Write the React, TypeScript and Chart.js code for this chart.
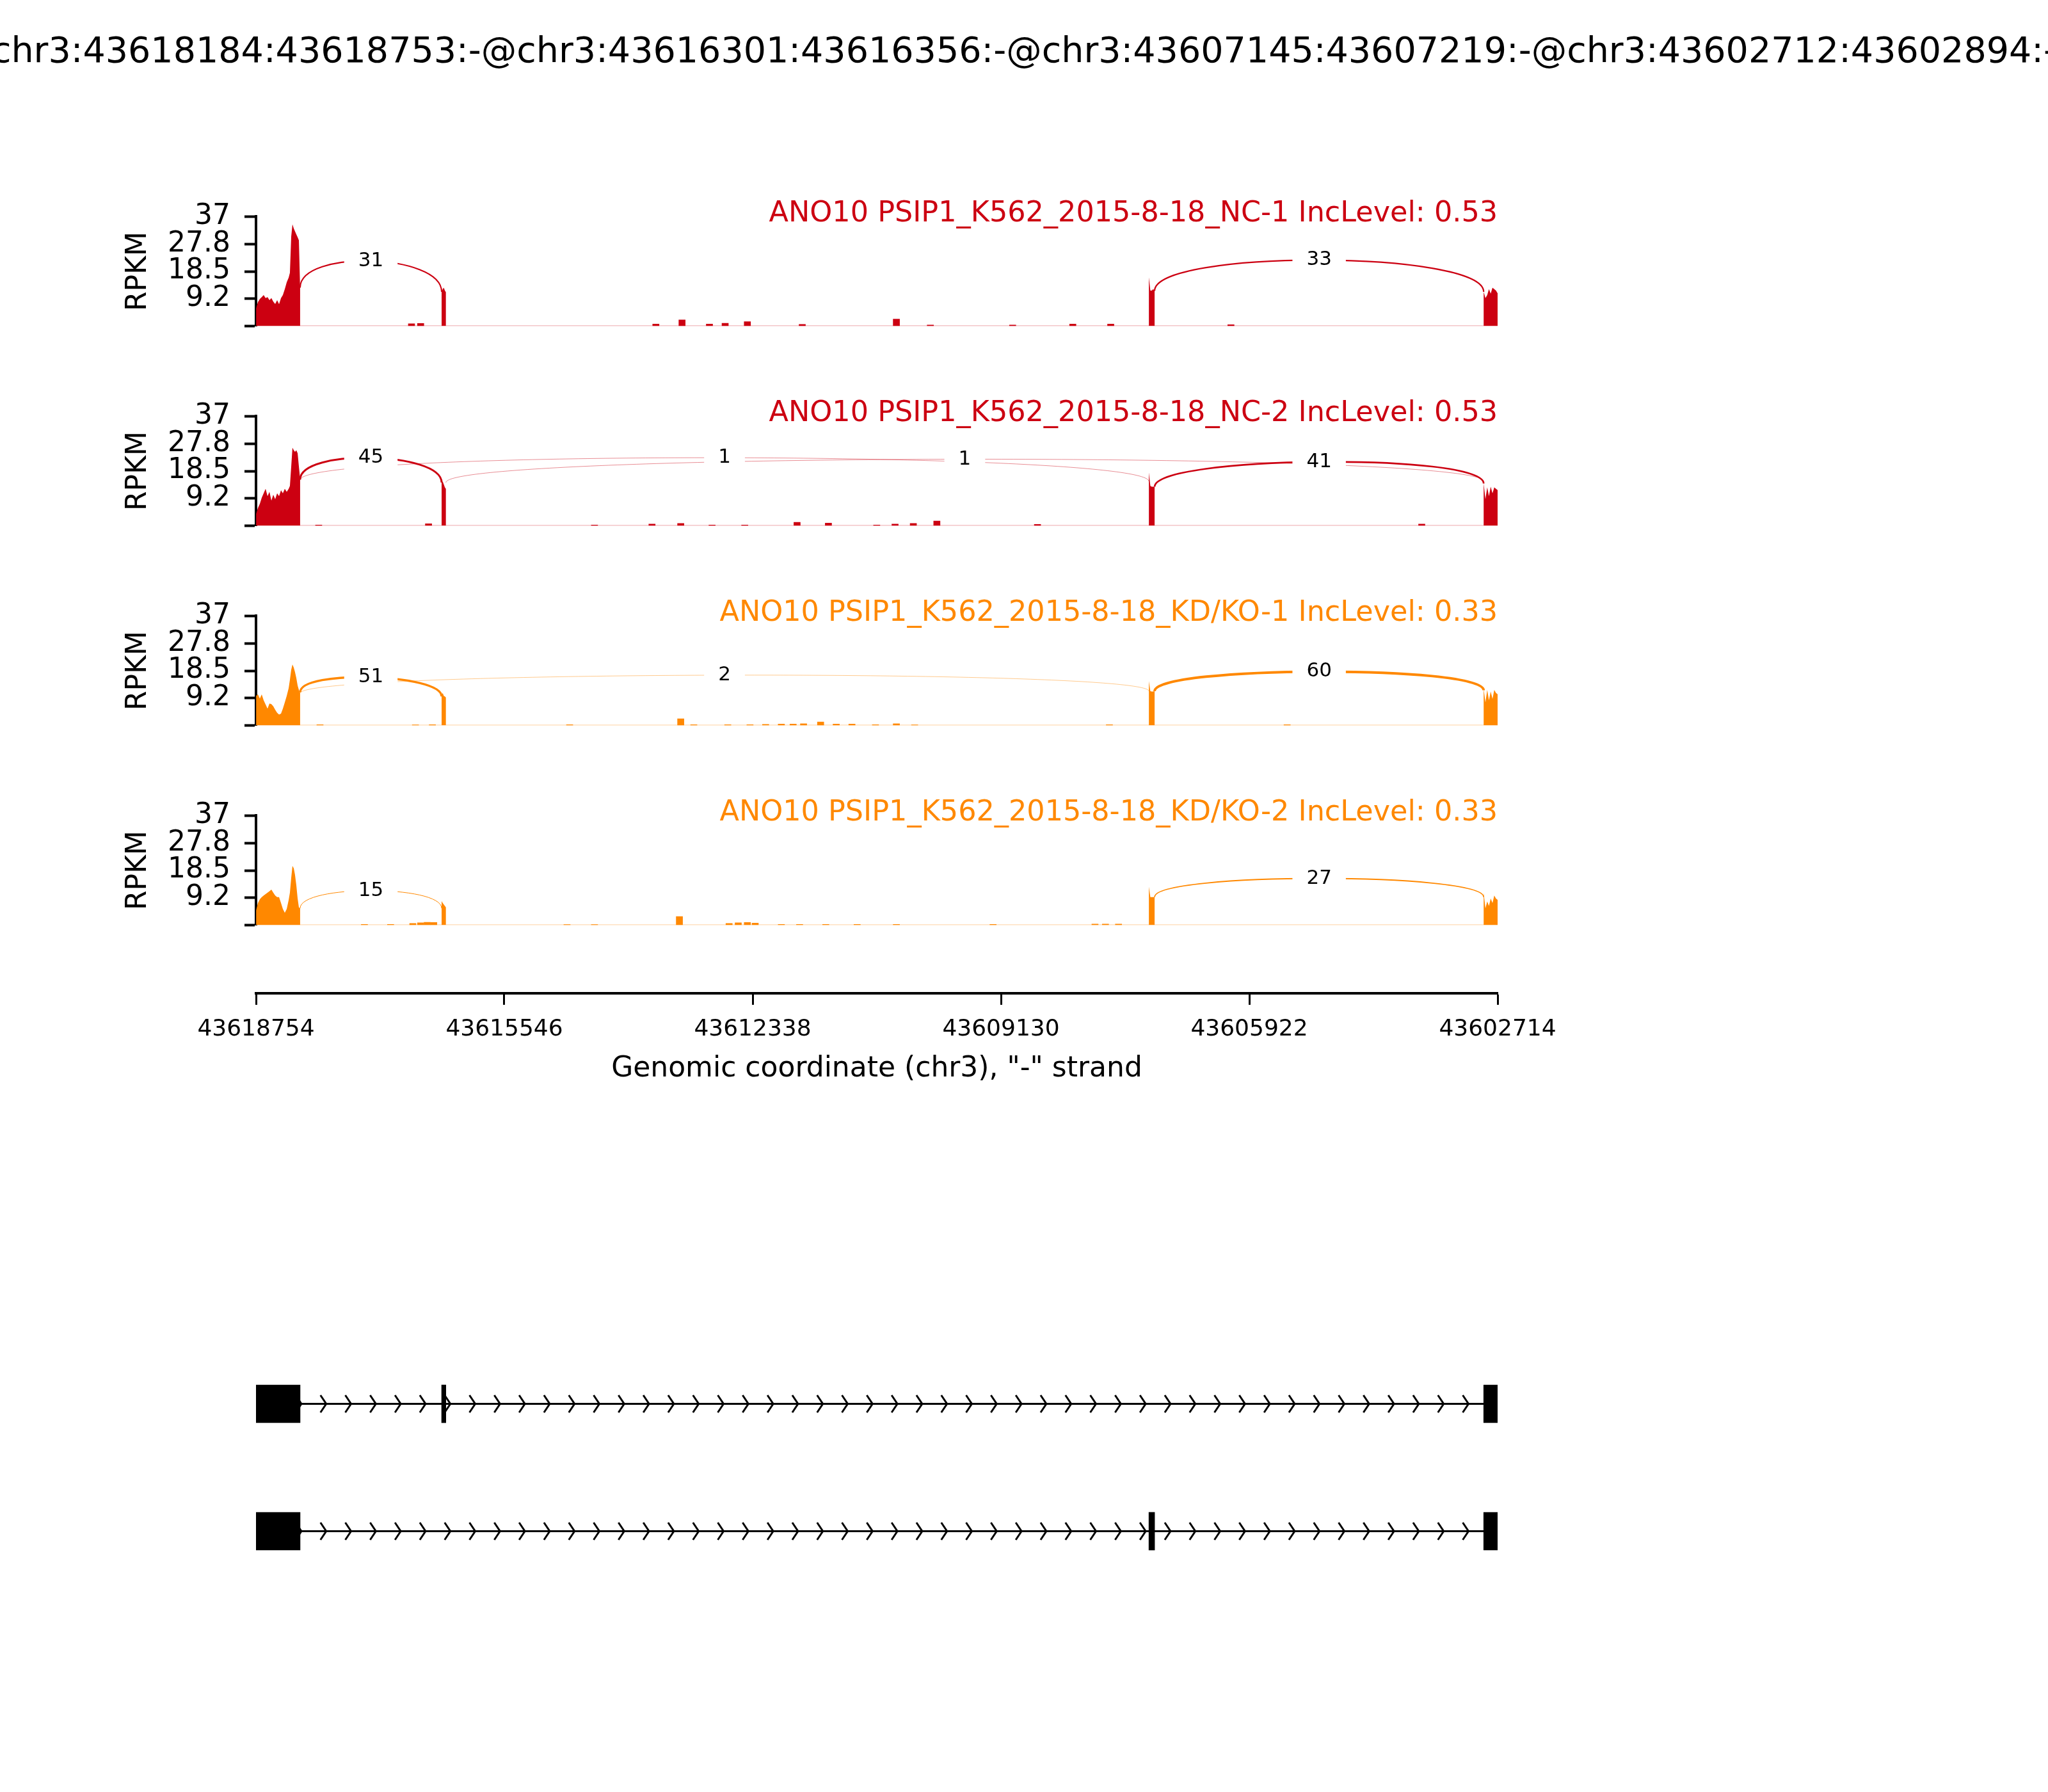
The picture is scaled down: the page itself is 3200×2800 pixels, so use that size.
import React, { useEffect, useRef } from 'react';
import { Chart, registerables } from 'chart.js';

Chart.register(...registerables);

const FONT = "'DejaVu Sans', sans-serif";
Chart.defaults.font.family = FONT;
Chart.defaults.color = '#000';

// ---------------- data ----------------
const eventTitle =
  'chr3:43618184:43618753:-@chr3:43616301:43616356:-@chr3:43607145:43607219:-@chr3:43602712:43602894:-';
const xAxisTitle = 'Genomic coordinate (chr3), "-" strand';
const yAxisTitle = 'RPKM';
const xTicks = [43618754, 43615546, 43612338, 43609130, 43605922, 43602714];
const yTicks = [0, 9.25, 18.5, 27.75, 37];
const yTickLabels = ['', '9.2', '18.5', '27.8', '37'];

const exonStarts = [43618184, 43616301, 43607145, 43602712];
const exonEnds = [43618753, 43616356, 43607219, 43602894];
const isoformLabels = ['isoform1', 'isoform2'];
const isoformExons = [
  [0, 1, 3],
  [0, 2, 3],
];

const sampleNames = [
  'ANO10 PSIP1_K562_2015-8-18_NC-1',
  'ANO10 PSIP1_K562_2015-8-18_NC-2',
  'ANO10 PSIP1_K562_2015-8-18_KD/KO-1',
  'ANO10 PSIP1_K562_2015-8-18_KD/KO-2',
];
const incLevels = ['0.53', '0.53', '0.33', '0.33'];
const sampleColors = ['#CC0011', '#CC0011', '#FF8800', '#FF8800'];
const baselineColors = ['rgba(204,0,17,0.28)', 'rgba(204,0,17,0.28)', 'rgba(255,136,0,0.3)', 'rgba(255,136,0,0.3)'];

// coverage sample positions inside each exon (genomic, left to right on the reversed axis)
const e1Pos = [
  43618753, 43618729, 43618704, 43618680, 43618655, 43618630, 43618605, 43618580, 43618555,
  43618531, 43618506, 43618481, 43618456, 43618431, 43618407, 43618382, 43618357, 43618332,
  43618316, 43618299, 43618283, 43618266, 43618250, 43618233, 43618216, 43618200, 43618184,
];
const e2Pos = [43616356, 43616342, 43616328, 43616314, 43616301];
const e3Pos = [43607219, 43607200, 43607182, 43607163, 43607145];
const e4Pos = [43602894, 43602871, 43602848, 43602826, 43602803, 43602780, 43602757, 43602735, 43602712];

// RPKM coverage per sample
const nc1E1 = [6.0, 8.1, 9.2, 9.8, 10.5, 9.5, 9.8, 8.8, 9.5, 8.3, 7.5, 8.8, 7.4, 9.5, 10.5, 12.5, 14.8, 16.4, 18.0, 30.3, 34.4, 33.0, 32.0, 31.0, 30.0, 29.0, 13.0];
const nc1E2 = [11.6, 12.5, 13.0, 12.0, 11.5];
const nc1E3 = [16.5, 12.0, 12.0, 12.5, 11.9];
const nc1E4 = [11.6, 9.5, 10.5, 12.5, 11.0, 13.0, 12.5, 12.0, 11.0];

const nc2E1 = [4.0, 6.0, 7.5, 9.5, 11.0, 12.5, 10.0, 11.5, 8.5, 10.5, 9.0, 11.0, 10.0, 12.0, 11.0, 12.5, 11.5, 12.5, 13.5, 20.0, 26.4, 25.5, 25.0, 25.5, 24.5, 20.0, 16.0];
const nc2E2 = [14.6, 15.0, 14.0, 13.0, 12.5];
const nc2E3 = [18.0, 13.5, 13.2, 13.2, 13.2];
const nc2E4 = [14.3, 9.0, 13.0, 10.0, 13.2, 11.0, 13.0, 12.5, 12.0];

const kd1E1 = [10.0, 10.5, 9.1, 10.5, 8.5, 7.1, 5.7, 7.4, 7.2, 6.5, 5.3, 4.3, 3.7, 4.0, 5.7, 7.8, 10.0, 12.6, 15.4, 18.8, 20.6, 19.5, 18.0, 16.0, 13.5, 12.0, 11.0];
const kd1E2 = [10.0, 11.0, 10.0, 9.8, 9.5];
const kd1E3 = [15.0, 11.6, 11.5, 11.5, 11.6];
const kd1E4 = [12.3, 7.8, 12.0, 8.5, 11.5, 9.0, 12.0, 11.0, 10.5];

const kd2E1 = [5.0, 7.5, 8.8, 9.5, 10.0, 10.5, 11.0, 11.5, 12.0, 11.0, 10.0, 9.5, 9.5, 7.5, 5.5, 4.2, 5.5, 8.5, 11.0, 16.0, 20.0, 19.2, 17.0, 13.5, 9.0, 6.0, 5.7];
const kd2E2 = [8.1, 7.5, 7.0, 6.5, 6.0];
const kd2E3 = [13.0, 9.5, 9.5, 9.5, 9.5];
const kd2E4 = [10.9, 5.7, 8.0, 6.5, 9.0, 7.5, 10.0, 9.0, 8.5];

// small intronic read pile-ups: [genomic position, RPKM]
const nc1Bumps = [
  [43616745, 0.8], [43616627, 0.9], [43613588, 0.7], [43613250, 2.1], [43612896, 0.7],
  [43612693, 1.0], [43612406, 1.5], [43611697, 0.6], [43610481, 2.4], [43610042, 0.4],
  [43608979, 0.4], [43608202, 0.7], [43607712, 0.7], [43606159, 0.5],
];
const nc2Bumps = [
  [43617944, 0.3], [43616525, 0.7], [43614381, 0.3], [43613638, 0.6], [43613267, 0.8],
  [43612862, 0.3], [43612440, 0.3], [43611764, 1.2], [43611359, 0.9], [43610735, 0.3],
  [43610498, 0.6], [43610262, 0.8], [43609958, 1.6], [43608658, 0.5], [43603694, 0.6],
];
const kd1Bumps = [
  [43617927, 0.3], [43616694, 0.2], [43616475, 0.3], [43614702, 0.3], [43613267, 2.3],
  [43613098, 0.3], [43612659, 0.3], [43612372, 0.3], [43612170, 0.4], [43611967, 0.5],
  [43611815, 0.5], [43611680, 0.6], [43611460, 1.2], [43611258, 0.5], [43611055, 0.5],
  [43610751, 0.3], [43610481, 0.6], [43610245, 0.2], [43607729, 0.3], [43605433, 0.3],
];
const kd2Bumps = [
  [43617353, 0.3], [43617015, 0.3], [43616728, 0.6], [43616627, 0.8], [43616542, 1.0],
  [43616458, 0.9], [43614736, 0.2], [43614381, 0.2], [43613284, 2.9], [43612642, 0.6],
  [43612524, 0.8], [43612406, 0.9], [43612305, 0.7], [43611967, 0.3], [43611731, 0.3],
  [43611393, 0.3], [43610988, 0.3], [43610481, 0.3], [43609232, 0.3], [43607915, 0.4],
  [43607780, 0.4], [43607611, 0.4],
];

// junctions: [left splice site, right splice site, read count, RPKM at left end, RPKM at right end, RPKM at apex]
const nc1Junctions = [
  [43618184, 43616356, 31, 13.0, 11.6, 22.0],
  [43607145, 43602894, 33, 11.9, 11.6, 22.3],
];
const nc2Junctions = [
  [43618184, 43616356, 45, 15.6, 14.6, 23.0],
  [43618184, 43607219, 1, 15.5, 15.0, 23.0],
  [43616301, 43602894, 1, 14.6, 15.0, 22.5],
  [43607145, 43602894, 41, 13.2, 14.3, 21.6],
];
const kd1Junctions = [
  [43618184, 43616356, 51, 11.2, 9.8, 16.3],
  [43618184, 43607219, 2, 10.9, 11.6, 17.0],
  [43607145, 43602894, 60, 11.6, 11.9, 18.2],
];
const kd2Junctions = [
  [43618184, 43616356, 15, 5.7, 5.7, 11.7],
  [43607145, 43602894, 27, 9.5, 9.5, 15.8],
];

const exonPositions = [e1Pos, e2Pos, e3Pos, e4Pos];
const sampleCoverage = [
  [nc1E1, nc1E2, nc1E3, nc1E4],
  [nc2E1, nc2E2, nc2E3, nc2E4],
  [kd1E1, kd1E2, kd1E3, kd1E4],
  [kd2E1, kd2E2, kd2E3, kd2E4],
];
const sampleBumps = [nc1Bumps, nc2Bumps, kd1Bumps, kd2Bumps];
const sampleJunctions = [nc1Junctions, nc2Junctions, kd1Junctions, kd2Junctions];

// ---------------- layout ----------------
const CANVAS_W = 3200;
const PLOT_LEFT = 400;
const PLOT_RIGHT = 2340;
const PANEL_TOP0 = 335;
const PANEL_STEP = 312;
const PANEL_H = 178;
const PANEL_PAD = 45;
const X_MIN = Math.min(...xTicks);
const X_MAX = Math.max(...xTicks);

function makePanelConfig(i: number): any {
  const color = sampleColors[i];
  const cov = sampleCoverage[i];
  const covPoints: { x: number; y: number }[] = [];
  exonPositions.forEach((pos, k) => {
    covPoints.push({ x: pos[0], y: 0 });
    pos.forEach((p, j) => covPoints.push({ x: p, y: cov[k][j] }));
    covPoints.push({ x: pos[pos.length - 1], y: 0 });
  });
  const bumps = sampleBumps[i].map(([p, v]) => ({ x: p, y: v }));
  const baseline = [
    { x: X_MAX, y: 0 },
    { x: X_MIN, y: 0 },
  ];
  const juncs = sampleJunctions[i];
  const label = `${sampleNames[i]} IncLevel: ${incLevels[i]}`;

  const arcPlugin = {
    id: 'sashimiArcs' + i,
    afterDatasetsDraw(chart: any) {
      const { ctx } = chart;
      const xs = chart.scales.x;
      const ys = chart.scales.y;
      ctx.save();
      ctx.strokeStyle = color;
      ctx.lineCap = 'butt';
      const labels: { x: number; y: number; t: string }[] = [];
      for (const [s, e, c, l, r, a] of juncs) {
        const h = (a - (l + r) / 2) / 0.75;
        const x1 = xs.getPixelForValue(s);
        const x2 = xs.getPixelForValue(e);
        ctx.lineWidth = Math.max(c / 15, 0.45);
        ctx.beginPath();
        ctx.moveTo(x1, ys.getPixelForValue(l));
        ctx.bezierCurveTo(x1, ys.getPixelForValue(l + h), x2, ys.getPixelForValue(r + h), x2, ys.getPixelForValue(r));
        ctx.stroke();
        labels.push({ x: (x1 + x2) / 2, y: ys.getPixelForValue(a), t: String(c) });
      }
      ctx.font = `31px ${FONT}`;
      ctx.textAlign = 'center';
      ctx.textBaseline = 'middle';
      for (const lb of labels) {
        const tw = ctx.measureText(lb.t).width;
        ctx.fillStyle = '#fff';
        ctx.fillRect(lb.x - tw / 2 - 22, lb.y - 21, tw + 44, 42);
        ctx.fillStyle = '#000';
        ctx.fillText(lb.t, lb.x, lb.y);
      }
      ctx.restore();
    },
  };

  const labelPlugin = {
    id: 'sampleLabel' + i,
    afterDraw(chart: any) {
      const { ctx, chartArea } = chart;
      ctx.save();
      ctx.font = `44.5px ${FONT}`;
      ctx.fillStyle = color;
      ctx.textAlign = 'right';
      ctx.textBaseline = 'middle';
      ctx.fillText(label, chartArea.right, chartArea.top - 4);
      ctx.restore();
    },
  };

  return {
    type: 'line',
    data: {
      datasets: [
        {
          type: 'line',
          data: covPoints,
          borderColor: 'rgba(0,0,0,0)',
          borderWidth: 0,
          backgroundColor: color,
          fill: 'origin',
          pointRadius: 0,
          tension: 0,
          order: 1,
        },
        {
          type: 'bar',
          data: bumps,
          backgroundColor: color,
          barThickness: 10,
          order: 2,
        },
        {
          type: 'line',
          data: baseline,
          borderColor: baselineColors[i],
          borderWidth: 2.5,
          pointRadius: 0,
          fill: false,
          order: 3,
        },
      ],
    },
    options: {
      responsive: false,
      animation: false,
      devicePixelRatio: 1,
      events: [],
      layout: { padding: { left: 190, right: CANVAS_W - PLOT_RIGHT, top: PANEL_PAD, bottom: PANEL_PAD } },
      plugins: { legend: { display: false }, tooltip: { enabled: false }, title: { display: false } },
      scales: {
        x: {
          type: 'linear',
          reverse: true,
          min: X_MIN,
          max: X_MAX,
          display: false,
          offset: false,
          grid: { offset: false },
        },
        y: {
          type: 'linear',
          min: 0,
          max: 37,
          afterBuildTicks: (s: any) => {
            s.ticks = yTicks.map((v) => ({ value: v }));
          },
          afterFit: (s: any) => {
            s.width = PLOT_LEFT - 190;
          },
          border: { display: true, color: '#000', width: 4 },
          grid: {
            display: true,
            drawOnChartArea: false,
            drawTicks: true,
            tickLength: 18,
            tickWidth: 4,
            tickColor: '#000',
          },
          ticks: {
            autoSkip: false,
            padding: 22,
            color: '#000',
            font: { size: 44, family: FONT },
            callback: (v: any) => {
              const k = yTicks.indexOf(Number(v));
              return k >= 0 ? yTickLabels[k] : '';
            },
          },
          title: {
            display: true,
            text: yAxisTitle,
            color: '#000',
            font: { size: 44, family: FONT },
            padding: { top: 0, bottom: 0 },
          },
        },
      },
    },
    plugins: [arcPlugin, labelPlugin],
  };
}

const AXIS_CANVAS_TOP = 1480;
const AXIS_CANVAS_H = 260;

function makeAxisConfig(): any {
  return {
    type: 'line',
    data: { datasets: [] },
    options: {
      responsive: false,
      animation: false,
      devicePixelRatio: 1,
      events: [],
      layout: { padding: { left: PLOT_LEFT, right: CANVAS_W - PLOT_RIGHT, top: 0, bottom: 43 } },
      plugins: { legend: { display: false }, tooltip: { enabled: false } },
      scales: {
        x: {
          type: 'linear',
          position: 'bottom',
          reverse: true,
          min: X_MIN,
          max: X_MAX,
          offset: false,
          afterBuildTicks: (s: any) => {
            s.ticks = xTicks.map((v) => ({ value: v }));
          },
          afterFit: (s: any) => {
            s.height = 145;
          },
          border: { display: true, color: '#000', width: 4 },
          grid: {
            display: true,
            drawOnChartArea: false,
            drawTicks: true,
            tickLength: 18,
            tickWidth: 3,
            tickColor: '#000',
          },
          ticks: {
            autoSkip: false,
            maxRotation: 0,
            minRotation: 0,
            padding: 17,
            color: '#000',
            font: { size: 36, family: FONT },
            callback: (v: any) => String(v),
          },
          title: {
            display: true,
            text: xAxisTitle,
            color: '#000',
            font: { size: 44, family: FONT },
            padding: { top: 0, bottom: 0 },
          },
        },
        y: { display: false, min: 0, max: 1 },
      },
    },
  };
}

const GENE_CANVAS_TOP = 2060;
const GENE_CANVAS_H = 470;

function makeGeneConfig(): any {
  const exonBars = isoformExons.flatMap((ex, t) =>
    ex.map((k) => ({ y: isoformLabels[t], x: [exonStarts[k], exonEnds[k]] }))
  );
  const intronLines = isoformExons.map((ex, t) => ({
    type: 'line',
    indexAxis: 'y',
    data: [
      { x: exonStarts[ex[0]], y: isoformLabels[t] },
      { x: exonEnds[ex[ex.length - 1]], y: isoformLabels[t] },
    ],
    borderColor: '#000',
    borderWidth: 3,
    pointRadius: 0,
    fill: false,
    order: 2,
  }));

  const chevronPlugin = {
    id: 'chevrons',
    afterDatasetsDraw(chart: any) {
      const { ctx } = chart;
      const xs = chart.scales.x;
      const ys = chart.scales.y;
      ctx.save();
      ctx.strokeStyle = '#000';
      ctx.lineWidth = 3;
      isoformExons.forEach((ex, t) => {
        const y = ys.getPixelForValue(t);
        const xa = xs.getPixelForValue(exonStarts[ex[0]]);
        const xb = xs.getPixelForValue(exonEnds[ex[ex.length - 1]]);
        for (let x = xa + 2; x < xb - 6; x += 38.8) {
          ctx.beginPath();
          ctx.moveTo(x - 9, y - 13.5);
          ctx.lineTo(x, y);
          ctx.lineTo(x - 9, y + 13.5);
          ctx.stroke();
        }
      });
      ctx.restore();
    },
  };

  return {
    type: 'bar',
    data: {
      labels: isoformLabels,
      datasets: [
        {
          type: 'bar',
          indexAxis: 'y',
          data: exonBars,
          backgroundColor: '#000',
          borderWidth: 0,
          barThickness: 59,
          grouped: false,
          order: 1,
        },
        ...intronLines,
      ],
    },
    options: {
      indexAxis: 'y',
      responsive: false,
      animation: false,
      devicePixelRatio: 1,
      events: [],
      layout: { padding: { left: PLOT_LEFT, right: CANVAS_W - PLOT_RIGHT, top: 34, bottom: 38 } },
      plugins: { legend: { display: false }, tooltip: { enabled: false } },
      scales: {
        x: { type: 'linear', reverse: true, min: X_MIN, max: X_MAX, display: false, offset: false },
        y: { type: 'category', display: false, offset: true },
      },
    },
    plugins: [chevronPlugin],
  };
}

function ChartCanvas({ top, height, build }: { top: number; height: number; build: () => any }) {
  const ref = useRef<HTMLCanvasElement | null>(null);
  useEffect(() => {
    if (!ref.current) return;
    const chart = new Chart(ref.current, build());
    return () => chart.destroy();
  }, []);
  return (
    <canvas
      ref={ref}
      width={CANVAS_W}
      height={height}
      style={{ position: 'absolute', left: 0, top, width: CANVAS_W, height, display: 'block' }}
    />
  );
}

export default function App() {
  return (
    <div
      style={{
        position: 'absolute',
        left: 0,
        top: 0,
        width: 3200,
        height: 2800,
        overflow: 'hidden',
        background: '#fff',
      }}
    >
      <div
        style={{
          position: 'absolute',
          left: 1600,
          top: 50,
          transform: 'translateX(-50%)',
          whiteSpace: 'nowrap',
          fontFamily: FONT,
          fontSize: 55.5,
          lineHeight: '56px',
          color: '#000',
        }}
      >
        {eventTitle}
      </div>
      {sampleNames.map((_, i) => (
        <ChartCanvas
          key={i}
          top={PANEL_TOP0 + PANEL_STEP * i - PANEL_PAD}
          height={PANEL_H + 2 * PANEL_PAD}
          build={() => makePanelConfig(i)}
        />
      ))}
      <ChartCanvas top={AXIS_CANVAS_TOP} height={AXIS_CANVAS_H} build={makeAxisConfig} />
      <ChartCanvas top={GENE_CANVAS_TOP} height={GENE_CANVAS_H} build={makeGeneConfig} />
    </div>
  );
}
